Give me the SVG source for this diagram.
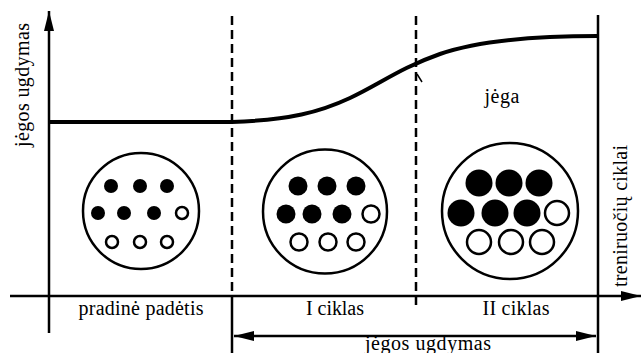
<svg xmlns="http://www.w3.org/2000/svg" width="644" height="353" viewBox="0 0 644 353">
<style>
.ax{stroke:#000;stroke-width:2.5;fill:none}
.dash{stroke:#000;stroke-width:2.5;fill:none;stroke-dasharray:9 5}
.big{fill:none;stroke:#000;stroke-width:2.5}
.f{fill:#000}
.o{fill:#fff;stroke:#000;stroke-width:2.5}
.t{font-family:'Liberation Serif','Times New Roman',serif;font-size:20px;fill:#000}
</style>
<defs>
<marker id="ah" viewBox="0 0 20 10" refX="20" refY="5" markerWidth="20" markerHeight="10" markerUnits="userSpaceOnUse" orient="auto-start-reverse">
<path d="M0,0 L20,5 L0,10 Z" fill="#000"/>
</marker>
</defs>
<rect width="644" height="353" fill="#fff"/>
<g id="connectors">
<line class="ax" x1="49" y1="333" x2="49" y2="11" marker-end="url(#ah)"/>
<line class="ax" x1="10" y1="296" x2="641" y2="296" marker-end="url(#ah)"/>
<path d="M49,122 L232,122 C290,120 320,112 350,98 S400,68 440,54 S540,36 598,36" fill="none" stroke="#000" stroke-width="4"/>
<line class="ax" x1="598" y1="15" x2="598" y2="353"/>
<line class="dash" x1="232" y1="16" x2="232" y2="296"/>
<line class="ax" x1="232" y1="296" x2="232" y2="353"/>
<line class="dash" x1="416" y1="16" x2="416" y2="306"/>
<line class="ax" x1="234" y1="336" x2="596" y2="336" marker-start="url(#ah)" marker-end="url(#ah)"/>
<line x1="417" y1="74" x2="422" y2="82" stroke="#000" stroke-width="1.5"/>
</g>
<g id="node-start">
<circle class="big" cx="141" cy="211" r="58"/>
<circle class="f" cx="111" cy="186" r="7"/><circle class="f" cx="140" cy="186" r="7"/><circle class="f" cx="167" cy="186" r="7"/>
<circle class="f" cx="98" cy="213" r="7"/><circle class="f" cx="124" cy="213" r="7"/><circle class="f" cx="154" cy="213" r="7"/><circle class="o" cx="182" cy="213" r="6"/>
<circle class="o" cx="112" cy="242" r="6"/><circle class="o" cx="140" cy="242" r="6"/><circle class="o" cx="167" cy="242" r="6"/>
</g>
<g id="node-cycle1">
<circle class="big" cx="325" cy="211.5" r="62"/>
<circle class="f" cx="298" cy="186" r="9.5"/><circle class="f" cx="327" cy="186" r="9.5"/><circle class="f" cx="356" cy="186" r="9.5"/>
<circle class="f" cx="286" cy="214" r="9.5"/><circle class="f" cx="312" cy="214" r="9.5"/><circle class="f" cx="342" cy="214" r="9.5"/><circle class="o" cx="371" cy="214" r="8.5"/>
<circle class="o" cx="299" cy="242" r="8.5"/><circle class="o" cx="328" cy="242" r="8.5"/><circle class="o" cx="356" cy="242" r="8.5"/>
</g>
<g id="node-cycle2">
<circle class="big" cx="510" cy="211" r="68"/>
<circle class="f" cx="479" cy="183" r="13.5"/><circle class="f" cx="509" cy="183" r="13.5"/><circle class="f" cx="539" cy="183" r="13.5"/>
<circle class="f" cx="461" cy="213" r="13.5"/><circle class="f" cx="495" cy="213" r="13.5"/><circle class="f" cx="527" cy="213" r="13.5"/><circle class="o" cx="557" cy="213" r="12"/>
<circle class="o" cx="479" cy="242" r="12"/><circle class="o" cx="511" cy="242" r="12"/><circle class="o" cx="542" cy="242" r="12"/>
</g>
<g id="labels">
<text class="t" transform="translate(29,85) rotate(-90)" text-anchor="middle" textLength="124">jėgos ugdymas</text>
<text class="t" transform="translate(627,216) rotate(-90)" text-anchor="middle" textLength="142">treniruočių ciklai</text>
<text class="t" x="502" y="103" text-anchor="middle" textLength="35">jėga</text>
<text class="t" x="141" y="315" text-anchor="middle" textLength="125">pradinė padėtis</text>
<text class="t" x="335" y="315" text-anchor="middle" textLength="58">I ciklas</text>
<text class="t" x="516" y="315" text-anchor="middle" textLength="67">II ciklas</text>
<text class="t" x="428" y="350" text-anchor="middle" textLength="126">jėgos ugdymas</text>
</g>
</svg>
